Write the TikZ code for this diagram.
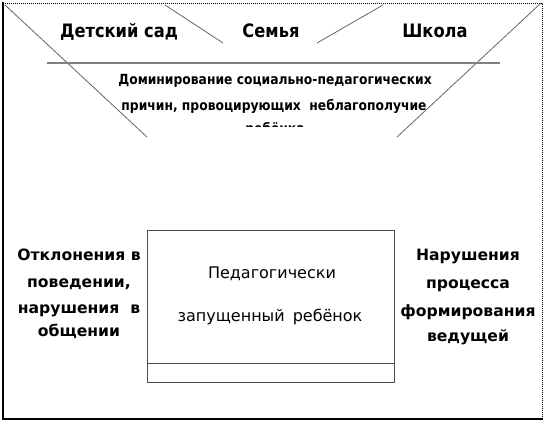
\documentclass[tikz,border=0pt]{standalone}
\usepackage{fontspec}
\setmainfont{DejaVu Sans}
\newfontfamily\condfont{DejaVu Sans}[FakeStretch=0.88]
\begin{document}
\begin{tikzpicture}[x=1pt,y=-1pt,
  frameline/.style={line width=1.3pt,line cap=rect},
  dotline/.style={line width=0.9pt,dash pattern=on 1pt off 1pt},
  diag/.style={draw=black!60,line width=0.8pt},
  hline/.style={draw=black!50,line width=2pt},
  toplbl/.style={anchor=base,inner sep=0pt,font=\condfont\bfseries\fontsize{18.5}{20}\selectfont},
  smalllbl/.style={anchor=base,inner sep=0pt,font=\condfont\bfseries\fontsize{14}{15}\selectfont},
  sidelbl/.style={anchor=base,inner sep=0pt,font=\bfseries\fontsize{15.6}{17}\selectfont},
  boxlbl/.style={anchor=base,inner sep=0pt,font=\fontsize{16}{18}\selectfont},
  childbox/.style={draw=black!70,line width=0.8pt,minimum width=247pt,minimum height=152pt,inner sep=0pt}
]
\useasboundingbox (0,0) rectangle (546,423);
% frame
\draw[frameline] (3,3) -- (3,419) -- (542,419);
\draw[dotline] (3,3) -- (542,3) -- (542,419);
% diagonals
\draw[diag] (5,5) -- (147,137);
\draw[diag] (541,3) -- (397,137);
\draw[diag] (165,5) -- (223,43);
\draw[diag] (383,5) -- (317,43);
\draw[hline] (47,63) -- (500,63);
% top labels
\node[toplbl] (ds) at (119,37) {Детский сад};
\node[toplbl] (sem) at (271,37) {Семья};
\node[toplbl] (shk) at (435,37) {Школа};
% dominance text
\node[smalllbl] (d1) at (275,84) {Доминирование социально-педагогических};
\node[smalllbl] (d2) at (274,110) {причин, провоцирующих\ \ неблагополучие};
\begin{scope}
  \clip (200,115) rectangle (350,126.6);
  \node[smalllbl] (d3) at (275,133) {ребёнка};
\end{scope}
% box
\node[childbox] (box) at (270.5,306) {};
\draw[draw=black!70,line width=0.8pt] ([yshift=19pt]box.south west) -- ([yshift=19pt]box.south east);
\node[boxlbl] (p1) at (272,278) {Педагогически};
\node[boxlbl] (p2) at (270,321) {запущенный\hspace{8pt}ребёнок};
% left text
\node[sidelbl] (l1) at (79,260) {Отклонения в};
\node[sidelbl] (l2) at (79,287) {поведении,};
\node[sidelbl] (l3) at (79,313) {нарушения\ \ в};
\node[sidelbl] (l4) at (79,336) {общении};
% right text
\node[sidelbl] (r1) at (468,260) {Нарушения};
\node[sidelbl] (r2) at (468,288) {процесса};
\node[sidelbl] (r3) at (468,316) {формирования};
\node[sidelbl] (r4) at (468,341) {ведущей};
\end{tikzpicture}
\end{document}
